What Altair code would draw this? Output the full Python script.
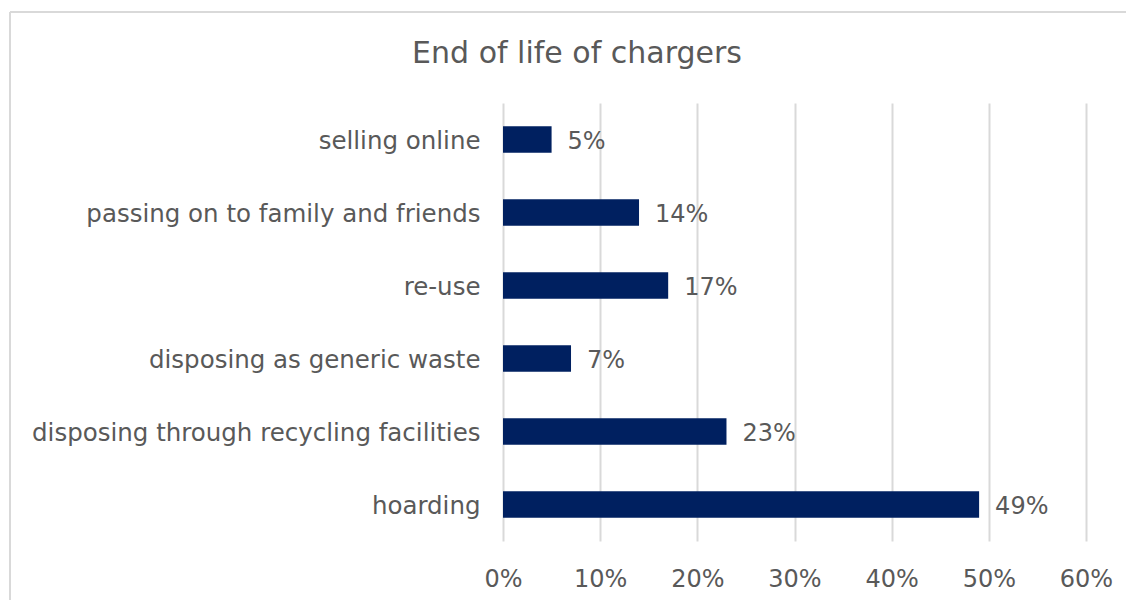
import altair as alt
import pandas as pd

categories = ["selling online", "passing on to family and friends", "re-use",
              "disposing as generic waste", "disposing through recycling facilities", "hoarding"]
values = [0.05, 0.14, 0.17, 0.07, 0.23, 0.49]
x_ticks = [0, 0.1, 0.2, 0.3, 0.4, 0.5, 0.6]
title_text = "End of life of chargers"

df = pd.DataFrame({"category": categories, "value": values})
df["label"] = [f"{round(v*100)}%" for v in values]

FONT = "DejaVu Sans"
GRAY = "#595959"
NAVY = "#002060"

W, H = 583, 438

base = alt.Chart(df)

bars = base.mark_bar(color=NAVY).encode(
    y=alt.Y("category:N", sort=categories,
            scale=alt.Scale(paddingInner=0.64, paddingOuter=0.32),
            axis=alt.Axis(title=None, ticks=False, domain=False, labelPadding=23, labelOffset=2,
                          labelFontSize=24.5, labelColor=GRAY, labelFont=FONT, labelLimit=600)),
    x=alt.X("value:Q", scale=alt.Scale(domain=[0, 0.6], nice=False),
            axis=alt.Axis(title=None, values=x_ticks, format=".0%", ticks=False, domain=False,
                          labelFlush=False, labelPadding=26, labelFontSize=24, labelColor=GRAY,
                          labelFont=FONT, gridColor="#d9d9d9", gridWidth=2)),
)

labels = base.mark_text(align="left", baseline="middle", dx=16, dy=2, fontSize=24,
                        font=FONT, color=GRAY).encode(
    y=alt.Y("category:N", sort=categories),
    x="value:Q",
    text="label:N",
)

title = alt.Chart(pd.DataFrame({"t": [title_text]})).mark_text(
    align="center", baseline="middle", fontSize=30, font=FONT, color=GRAY).encode(
    x=alt.value(74), y=alt.value(-49), text="t:N")

border_top = alt.Chart(df).mark_rule(color="#d9d9d9", strokeWidth=2).encode(
    x=alt.value(-493), x2=alt.value(640), y=alt.value(-91))
border_left = alt.Chart(df).mark_rule(color="#d9d9d9", strokeWidth=2).encode(
    x=alt.value(-493), y=alt.value(-91), y2=alt.value(520))

chart = alt.layer(border_top, border_left, bars, labels, title).properties(
    width=W, height=H,
    autosize=alt.AutoSizeParams(type="none"),
    padding={"left": 495, "top": 95, "right": 40, "bottom": 62},
).configure_view(stroke=None)

chart.save("out.html", embed_options={"renderer": "svg", "actions": False})
